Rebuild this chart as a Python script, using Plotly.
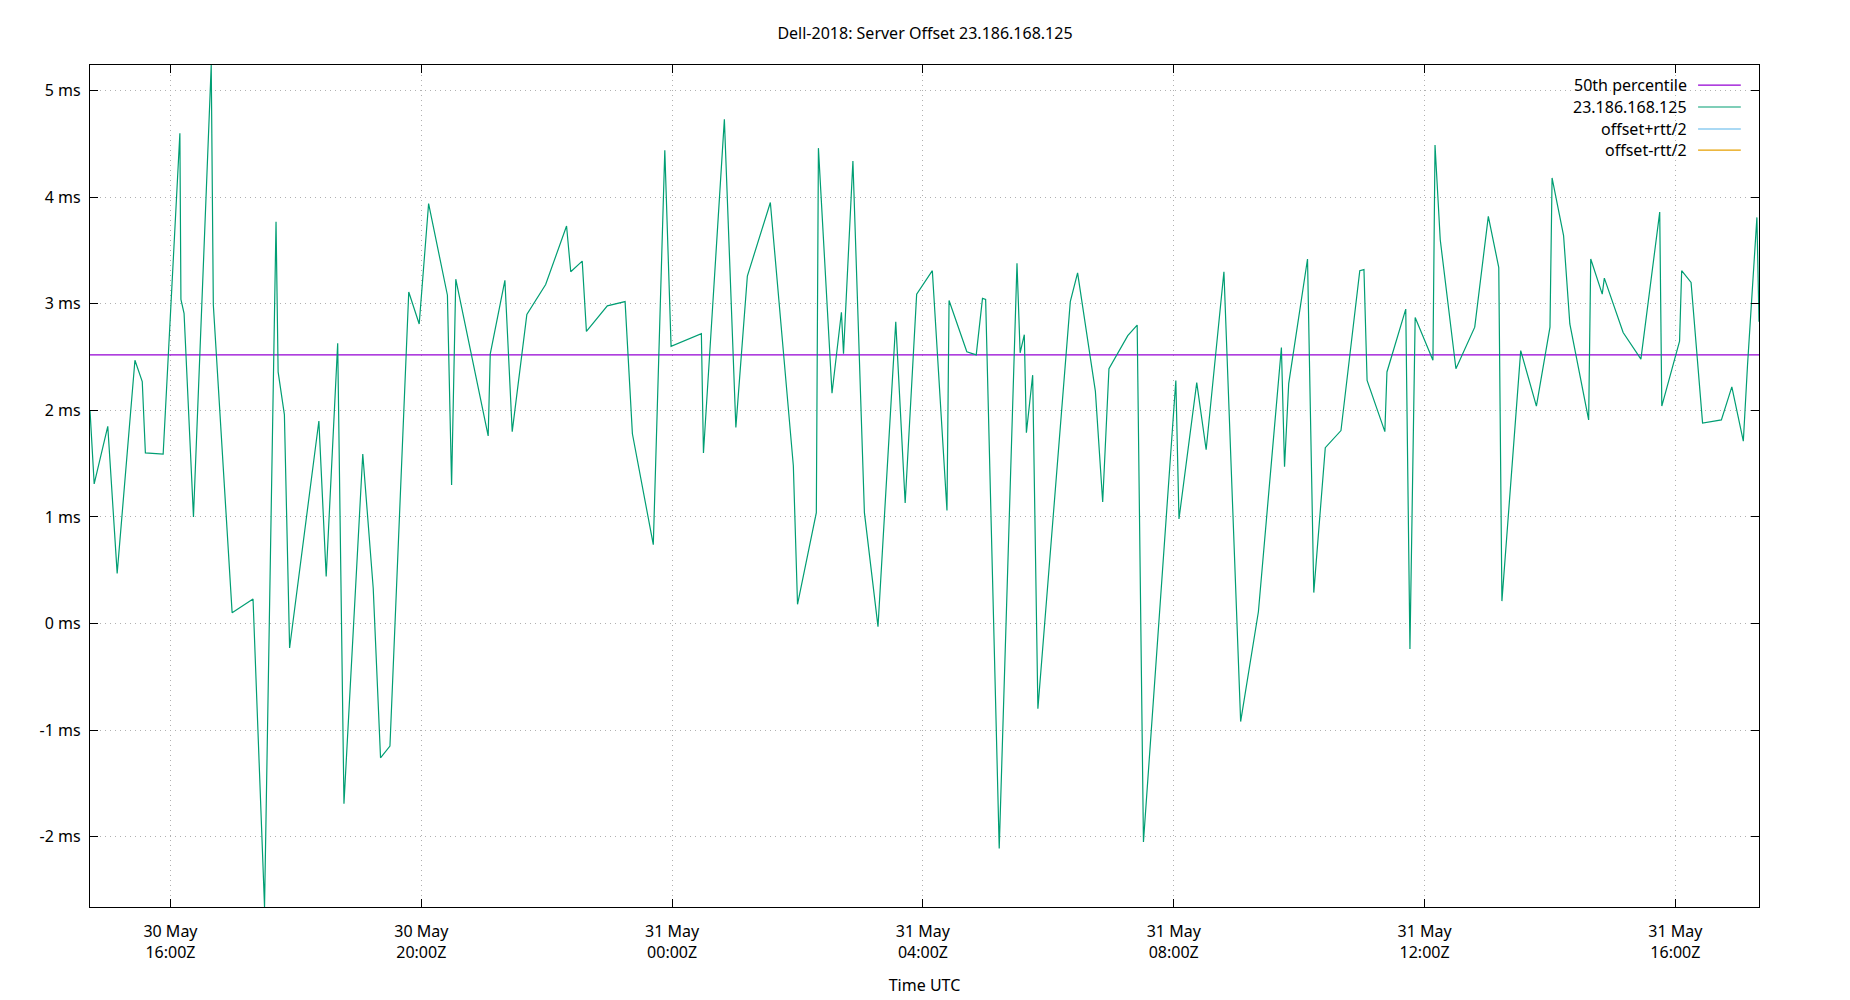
import plotly.graph_objects as go

TITLE = "Dell-2018: Server Offset 23.186.168.125"

times_may30 = ["14:43", "14:47", "15:00", "15:09", "15:26", "15:33", "15:36", "15:53", "16:09", "16:10",
               "16:13", "16:22", "16:39", "16:41", "16:59", "17:19", "17:30", "17:41", "17:43", "17:49",
               "17:54", "18:22", "18:29", "18:40", "18:46", "19:04", "19:14", "19:21", "19:30", "19:48",
               "19:58", "20:07", "20:25", "20:29", "20:33", "21:04", "21:06", "21:20", "21:27", "21:41",
               "21:59", "22:19", "22:23", "22:34", "22:38", "22:58", "23:15", "23:22", "23:42", "23:53",
               "23:59"]
times_may31 = ["00:28", "00:30", "00:50", "01:01", "01:12", "01:34", "01:56", "02:00", "02:18", "02:20",
               "02:33", "02:42", "02:44", "02:53", "03:04", "03:17", "03:34", "03:43", "03:54", "04:09",
               "04:23", "04:25", "04:42", "04:51", "04:57", "05:00", "05:13", "05:30", "05:33", "05:37",
               "05:39", "05:45", "05:50", "06:21", "06:28", "06:45", "06:52", "06:58", "07:16", "07:25",
               "07:31", "08:02", "08:05", "08:22", "08:31", "08:48", "09:04", "09:21", "09:43", "09:46",
               "09:50", "10:08", "10:14", "10:25", "10:40", "10:58", "11:02", "11:05", "11:22", "11:24",
               "11:42", "11:46", "11:51", "12:08", "12:10", "12:15", "12:30", "12:48", "13:01", "13:11",
               "13:14", "13:32", "13:47", "14:00", "14:02", "14:13", "14:19", "14:37", "14:39", "14:50",
               "14:52", "15:10", "15:27", "15:45", "15:47", "16:04", "16:06", "16:15", "16:26", "16:44",
               "16:54", "17:05", "17:09", "17:18", "17:20"]

offset_ms = [2.00, 1.31, 1.85, 0.47, 2.47, 2.27, 1.60, 1.59, 4.60, 3.04,
             2.91, 1.00, 5.24, 2.99, 0.10, 0.23, -2.66, 3.77, 2.36, 1.96,
             -0.23, 1.90, 0.44, 2.63, -1.69, 1.59, 0.33, -1.26, -1.15, 3.11,
             2.81, 3.94, 3.08, 1.30, 3.23, 1.76, 2.53, 3.22, 1.80, 2.90,
             3.18, 3.73, 3.30, 3.40, 2.74, 2.98, 3.02, 1.78, 0.74, 4.44,
             2.60,
             2.72, 1.60, 4.73, 1.84, 3.26, 3.95, 1.48, 0.18, 1.04, 4.46,
             2.16, 2.92, 2.53, 4.34, 1.04, -0.03, 2.83, 1.13, 3.09, 3.31,
             1.06, 3.03, 2.55, 2.52, 3.05, 3.04, -2.11, 3.38, 2.54, 2.71,
             1.79, 2.33, -0.80, 3.02, 3.29, 2.18, 1.14, 2.39, 2.70, 2.80,
             -2.05, 2.28, 0.98, 2.26, 1.63, 3.30, -0.92, 0.11, 2.59, 1.47,
             2.25, 3.42, 0.29, 1.65, 1.81, 3.31, 3.32, 2.28, 1.80, 2.36,
             2.95, -0.24, 2.87, 2.47, 4.49, 3.60, 2.39, 2.78, 3.82, 3.34,
             0.21, 2.56, 2.04, 2.78, 4.18, 3.64, 2.81, 1.91, 3.42, 3.09,
             3.24, 2.73, 2.48, 3.86, 2.04, 2.65, 3.31, 3.20, 1.88, 1.91,
             2.22, 1.71, 2.42, 3.81, 2.83]

percentile_50 = 2.52

x_tickvals = ["2018-05-30 16:00", "2018-05-30 20:00", "2018-05-31 00:00", "2018-05-31 04:00",
              "2018-05-31 08:00", "2018-05-31 12:00", "2018-05-31 16:00"]
x_ticktext = ["30 May<br>16:00Z", "30 May<br>20:00Z", "31 May<br>00:00Z", "31 May<br>04:00Z",
              "31 May<br>08:00Z", "31 May<br>12:00Z", "31 May<br>16:00Z"]
y_tickvals = [-2, -1, 0, 1, 2, 3, 4, 5]
y_ticktext = ["-2 ms", "-1 ms", "0 ms", "1 ms", "2 ms", "3 ms", "4 ms", "5 ms"]

legend_names = ["50th percentile", "23.186.168.125", "offset+rtt/2", "offset-rtt/2"]
legend_colors = ["#9400d3", "#009e73", "#56b4e9", "#e69f00"]

times = ["2018-05-30 " + t for t in times_may30] + ["2018-05-31 " + t for t in times_may31]

FONT = "Noto Sans"
FS = 16
fig = go.Figure()

fig.add_trace(go.Scatter(x=[times[0], times[-1]], y=[percentile_50, percentile_50], mode="lines",
                         line=dict(color=legend_colors[0], width=1.2), showlegend=False,
                         name=legend_names[0]))
fig.add_trace(go.Scatter(x=times, y=offset_ms, mode="lines",
                         line=dict(color=legend_colors[1], width=1.2), showlegend=False,
                         name=legend_names[1]))

# gnuplot-style legend: right-aligned text, line sample to its right
row_y = [0.9762, 0.9501, 0.9240, 0.8990]
for name, col, yy in zip(legend_names, legend_colors, row_y):
    fig.add_annotation(x=0.9581, y=yy, xref="paper", yref="paper", text=name, showarrow=False,
                       xanchor="right", yanchor="middle", font=dict(family=FONT, size=FS, color="#000"))
    fig.add_shape(type="line", xref="paper", yref="paper", x0=0.9635, x1=0.9891, y0=yy, y1=yy,
                  line=dict(color=col, width=1.2))

fig.update_layout(
    width=1850, height=1000,
    margin=dict(l=90, r=91, t=65, b=93, autoexpand=False),
    paper_bgcolor="white", plot_bgcolor="white",
    font=dict(family=FONT, size=FS, color="#000"),
    title=dict(text=TITLE, x=0.5, xanchor="center", y=0.967, yanchor="middle",
               font=dict(family=FONT, size=FS, color="#000")),
    showlegend=False,
)
fig.update_xaxes(
    type="date", range=[times[0], times[-1]], automargin=False,
    tickmode="array", tickvals=x_tickvals, ticktext=x_ticktext,
    ticks="inside", ticklen=8, tickcolor="#000", tickwidth=1.3, mirror="allticks",
    showline=True, linecolor="#000", linewidth=1.3,
    showgrid=True, gridcolor="#b0b0b0", griddash="1px,4px", gridwidth=1,
    zeroline=False, ticklabelstandoff=10,
    title=dict(text="Time UTC", standoff=17, font=dict(family=FONT, size=FS)),
    tickfont=dict(family=FONT, size=FS),
)
fig.update_yaxes(
    range=[-2.66, 5.24], automargin=False,
    tickmode="array", tickvals=y_tickvals, ticktext=y_ticktext,
    ticks="inside", ticklen=8, tickcolor="#000", tickwidth=1.3, mirror="allticks",
    showline=True, linecolor="#000", linewidth=1.3,
    showgrid=True, gridcolor="#b0b0b0", griddash="1px,4px", gridwidth=1,
    zeroline=False, ticklabelstandoff=5,
    tickfont=dict(family=FONT, size=FS),
)

fig.write_html("out.html")
